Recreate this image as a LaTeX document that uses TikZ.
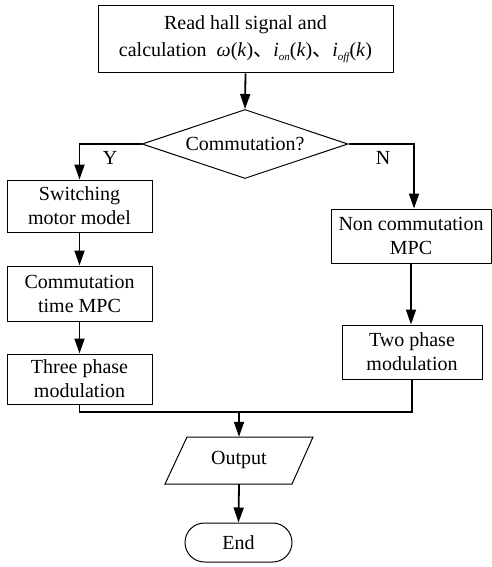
\documentclass[tikz,border=0pt]{standalone}
\usepackage{fontspec}
\setmainfont{Liberation Serif}
\newfontfamily\cjk{Noto Sans CJK SC}
\usetikzlibrary{shapes.geometric,arrows.meta}
\newcommand{\subit}[1]{\raisebox{-0.4ex}{\fontsize{11}{11}\selectfont\itshape #1}}
\begin{document}
\begin{tikzpicture}[x=1pt,y=-1pt,
  every node/.style={font=\fontsize{20}{24}\selectfont, align=center, inner sep=0pt},
  box/.style={draw, line width=1pt, minimum width=145pt},
  conn/.style={line width=1.8pt},
  arr/.style={conn, -{Triangle[length=15pt,width=10pt]}}]
\useasboundingbox (0,0) rectangle (492,567);
\node[box, minimum width=295pt, minimum height=67pt, font=\fontsize{20}{27}\selectfont] (read) at (245.5,39.5)
  {Read hall signal and\\calculation\ \ \textit{ω}(\textit{k}){\cjk 、}\textit{i}\subit{on}(\textit{k}){\cjk 、}\textit{i}\subit{off}(\textit{k})};
\node[diamond, draw, line width=1pt, aspect=3, minimum width=206pt, minimum height=69pt] (dec) at (245,144) {Commutation?};
\node[box, minimum height=52pt] (sw) at (79.5,206) {Switching\\motor model};
\node[box, minimum height=55pt] (ct) at (79.5,293.5) {Commutation\\time MPC};
\node[box, minimum height=50pt] (tp) at (79.5,379) {Three phase\\modulation};
\node[box, minimum width=160pt, minimum height=54pt] (nc) at (411,236) {Non commutation\\MPC};
\node[box, minimum width=140pt, minimum height=54pt] (twp) at (412,352) {Two phase\\modulation};
\node[minimum width=127pt, minimum height=47pt] (out) at (239,460.5) {Output};
\draw[line width=1pt] (187,437) -- (313,437) -- (292,484) -- (165,484) -- cycle;
\node[draw, line width=1pt, rounded corners=19.5pt, minimum width=107pt, minimum height=39pt] (end) at (238.5,542.5) {End};
\node (y) at (110,158) {Y};
\node (n) at (383,158) {N};
\coordinate (mrg) at (239,412);
\draw[arr] (read.south) -- (dec.north);
\draw[arr] (dec.west) -| (sw.north);
\draw[arr] (dec.east) -| ([xshift=3pt]nc.north);
\draw[arr] (sw.south) -- (ct.north);
\draw[arr] (ct.south) -- (tp.north);
\draw[arr] (nc.south) -- (twp.north -| nc.south);
\draw[conn] (tp.south) |- (mrg) -| (twp.south);
\draw[arr] (mrg) -- (out.north);
\draw[arr] (out.south) -- (end.north);
\end{tikzpicture}
\end{document}
